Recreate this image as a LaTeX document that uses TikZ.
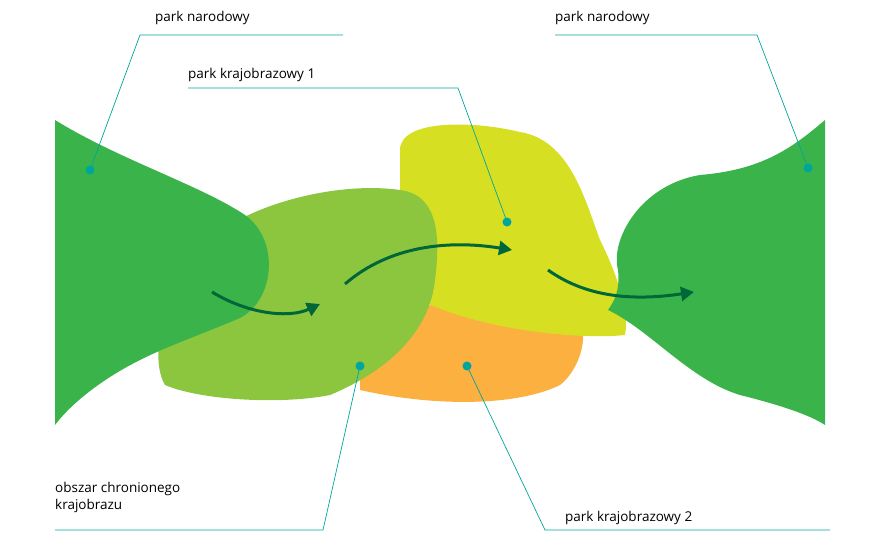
\documentclass[tikz,border=0pt]{standalone}
\usepackage{fontspec}
\setmainfont{Open Sans}
\usetikzlibrary{arrows.meta}
\definecolor{dg}{RGB}{58,180,74}
\definecolor{lg}{RGB}{140,198,63}
\definecolor{yl}{RGB}{215,223,35}
\definecolor{og}{RGB}{251,176,64}
\definecolor{ar}{RGB}{0,104,56}
\definecolor{tl}{RGB}{0,166,156}
\tikzset{lead/.style={tl,line width=0.7pt},dot/.style={circle,fill=tl,inner sep=0pt,minimum size=9pt},
arr/.style={ar,line width=3pt,-{Triangle[length=13pt,width=14pt]}},
lbl/.style={anchor=west,font=\fontsize{13.5}{17}\selectfont,inner sep=0pt,align=left}}
\begin{document}
\begin{tikzpicture}[x=1pt,y=-1pt]
\useasboundingbox (0,0) rectangle (880,540);
% orange
\fill[og] (360,380) .. controls (380,300) and (480,280) .. (560,300) .. controls (600,320) and (580,370) .. (560,385) .. controls (520,405) and (440,408) .. (360,390) -- cycle;
% yellow
\fill[yl] (400,150) .. controls (400,120) and (470,120) .. (520,132) .. controls (570,140) and (585,200) .. (600,240) .. controls (615,270) and (630,310) .. (625,335) .. controls (580,340) and (480,330) .. (420,300) -- (400,220) -- cycle;
% light green
\fill[lg] (165,385) .. controls (150,360) and (160,300) .. (200,250) .. controls (230,210) and (330,180) .. (400,190) .. controls (440,195) and (440,240) .. (435,280) .. controls (430,330) and (390,370) .. (330,395) .. controls (280,405) and (200,400) .. (165,385) -- cycle;
% left dark green
\fill[dg] (55,120) .. controls (120,160) and (200,185) .. (245,215) .. controls (280,240) and (275,300) .. (240,318) .. controls (200,335) and (170,345) .. (140,360) .. controls (100,380) and (70,405) .. (55,425) -- cycle;
% right dark green
\fill[dg] (825,120) .. controls (790,150) and (760,170) .. (700,175) .. controls (640,185) and (610,240) .. (618,270) .. controls (620,290) and (615,300) .. (608,310) .. controls (650,330) and (690,380) .. (740,395) .. controls (780,405) and (810,415) .. (825,425) -- cycle;
% arrows
\coordinate (a1s) at (212,292); \coordinate (a1e) at (320,304);
\coordinate (a2s) at (345,284); \coordinate (a2e) at (512,250);
\coordinate (a3s) at (548,270); \coordinate (a3e) at (694,292);
\draw[arr] (a1s) .. controls (250,315) and (290,318) .. (a1e);
\draw[arr] (a2s) .. controls (390,245) and (450,240) .. (a2e);
\draw[arr] (a3s) .. controls (590,300) and (640,300) .. (a3e);
% labels & leaders
\node[lbl] (t1) at (155,18) {park narodowy};
\node[lbl] (t2) at (555,18) {park narodowy};
\node[lbl] (t3) at (188,75) {park krajobrazowy 1};
\node[lbl] (t4) at (55,497) {obszar chronionego\\krajobrazu};
\node[lbl] (t5) at (565,518) {park krajobrazowy 2};
\node[dot] (d1) at (90,170) {};
\node[dot] (d2) at (808,168) {};
\node[dot] (d3) at (507,222) {};
\node[dot] (d4) at (360,366) {};
\node[dot] (d5) at (467,366) {};
\coordinate (c1a) at (140,35); \coordinate (c1b) at (343,35);
\coordinate (c2a) at (555,35); \coordinate (c2b) at (757,35);
\coordinate (c3a) at (188,88); \coordinate (c3b) at (458,88);
\coordinate (c4a) at (55,530); \coordinate (c4b) at (323,530);
\coordinate (c5a) at (545,530); \coordinate (c5b) at (830,530);
\draw[lead] (c1b) -- (c1a) -- (d1.center);
\draw[lead] (c2a) -- (c2b) -- (d2.center);
\draw[lead] (c3a) -- (c3b) -- (d3.center);
\draw[lead] (c4a) -- (c4b) -- (d4.center);
\draw[lead] (c5b) -- (c5a) -- (d5.center);
\end{tikzpicture}
\end{document}
